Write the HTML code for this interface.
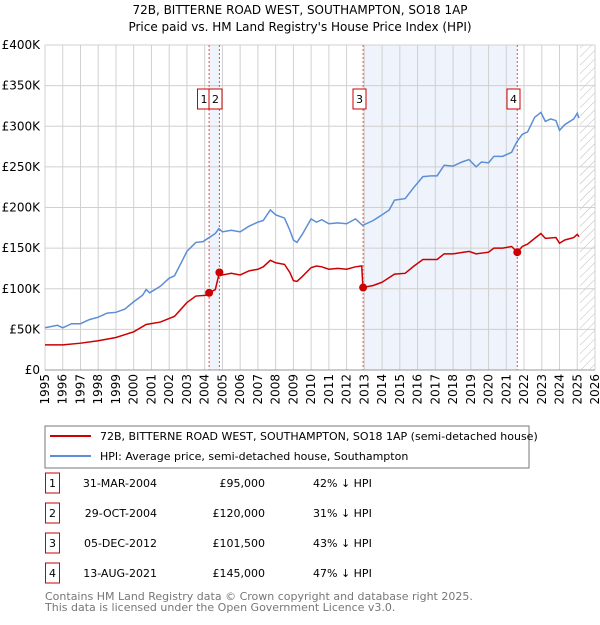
<!DOCTYPE html>
<html><head><meta charset="utf-8"><style>
body{margin:0;background:#fff;font-family:"Liberation Sans","DejaVu Sans",sans-serif;}
svg text{font-family:"DejaVu Sans","Liberation Sans",sans-serif;}
</style></head><body>
<svg id="c" width="600" height="620" xmlns="http://www.w3.org/2000/svg">
<defs><pattern id="hatch" width="6" height="6" patternUnits="userSpaceOnUse" patternTransform="rotate(45)"><line x1="0" y1="0" x2="0" y2="6" stroke="#bbb" stroke-width="1"/></pattern></defs>
<text x="300" y="14" text-anchor="middle" font-size="12">72B, BITTERNE ROAD WEST, SOUTHAMPTON, SO18 1AP</text>
<text x="300" y="31" text-anchor="middle" font-size="12">Price paid vs. HM Land Registry's House Price Index (HPI)</text>
<g id="plot"></g>
<rect x="45" y="426" width="484" height="42" fill="#fff" stroke="#777"/>
<line x1="50" y1="436" x2="91" y2="436" stroke="#cc0000" stroke-width="2"/>
<text x="100" y="440" font-size="11">72B, BITTERNE ROAD WEST, SOUTHAMPTON, SO18 1AP (semi-detached house)</text>
<line x1="50" y1="456" x2="91" y2="456" stroke="#5b8ed6" stroke-width="2"/>
<text x="100" y="460" font-size="11">HPI: Average price, semi-detached house, Southampton</text>
<g id="table" font-size="11"></g>
<text x="45" y="600" font-size="11" fill="#777">Contains HM Land Registry data © Crown copyright and database right 2025.</text>
<text x="45" y="611" font-size="11" fill="#777">This data is licensed under the Open Government Licence v3.0.</text>
</svg>
<script>
const hpiYears=[1995,1995.7,1996,1996.5,1997,1997.5,1998,1998.5,1999,1999.5,2000,2000.5,2000.7,2000.9,2001.5,2002,2002.3,2002.7,2003,2003.5,2003.9,2004.25,2004.6,2004.8,2005,2005.5,2006,2006.5,2007,2007.3,2007.7,2008,2008.5,2008.8,2009,2009.2,2009.5,2010,2010.3,2010.6,2011,2011.5,2012,2012.5,2012.9,2013.5,2014,2014.4,2014.7,2015.3,2015.8,2016.3,2016.8,2017.1,2017.5,2018,2018.5,2018.9,2019.3,2019.6,2020,2020.3,2020.8,2021.3,2021.6,2021.9,2022.2,2022.6,2022.95,2023.2,2023.5,2023.8,2024,2024.3,2024.8,2025,2025.1];
const hpiValues=[52,55,52,57,57,62,65,70,71,75,84,92,99,95,103,113,116,133,146,157,158,163,168,174,170,172,170,177,182,184,197,191,187,172,160,157,167,186,182,185,180,181,180,186,178,184,191,197,209,211,225,238,239,239,252,251,256,259,250,256,255,263,263,268,281,290,293,311,317,306,309,307,295,302,309,316,310];
const priceYears=[1995,1996,1997,1998,1999,2000,2000.7,2001.5,2002.3,2003,2003.5,2004.1,2004.25,2004.6,2004.83,2005,2005.5,2006,2006.5,2007,2007.3,2007.7,2008,2008.5,2008.8,2009,2009.2,2009.5,2010,2010.3,2010.6,2011,2011.5,2012,2012.5,2012.85,2012.92,2013.5,2014,2014.7,2015.3,2015.8,2016.3,2017.1,2017.5,2018,2018.9,2019.3,2020,2020.3,2020.8,2021.3,2021.62,2021.9,2022.2,2022.6,2022.95,2023.2,2023.8,2024,2024.3,2024.8,2025,2025.1];
const priceValues=[31,31,33,36,40,47,56,59,66,83,91,92,95,99,120,117,119,117,122,124,127,135,132,130,120,110,109,115,126,128,127,124,125,124,127,128,101.5,104,108,118,119,128,136,136,143,143,146,143,145,150,150,152,145,152,155,162,168,162,163,156,160,163,167,164];
const saleLabels=["1","2","3","4"];
const saleYears=[2004.25,2004.83,2012.93,2021.62];
const saleValues=[95,120,101.5,145];
const saleDates=["31-MAR-2004","29-OCT-2004","05-DEC-2012","13-AUG-2021"];
const salePrices=["£95,000","£120,000","£101,500","£145,000"];
const saleDiffs=["42% ↓ HPI","31% ↓ HPI","43% ↓ HPI","47% ↓ HPI"];
const yTicks=[0,50,100,150,200,250,300,350,400];
const yTickLabels=["£0","£50K","£100K","£150K","£200K","£250K","£300K","£350K","£400K"];
const xTicks=[1995,1996,1997,1998,1999,2000,2001,2002,2003,2004,2005,2006,2007,2008,2009,2010,2011,2012,2013,2014,2015,2016,2017,2018,2019,2020,2021,2022,2023,2024,2025,2026];

const L=45,R=595,T=45,B=370;
const X=y=>L+(y-1995)*(R-L)/31;
const Y=v=>B-v*(B-T)/400;
const NS="http://www.w3.org/2000/svg";
const g=document.getElementById('plot');
function mk(tag,attrs,parent){const e=document.createElementNS(NS,tag);for(const k in attrs)e.setAttribute(k,attrs[k]);(parent||g).appendChild(e);return e;}
let e;
e=mk('rect',{x:X(saleYears[0]),y:T,width:X(saleYears[1])-X(saleYears[0]),height:B-T,fill:'#eef3fc'});


e=mk('rect',{x:X(saleYears[2]),y:T,width:X(saleYears[3])-X(saleYears[2]),height:B-T,fill:'#eef3fc'});


e=mk('rect',{x:X(2025.15),y:T,width:R-X(2025.15),height:B-T,fill:'url(#hatch)'});


xTicks.forEach((t,i)=>{
 e=mk('line',{x1:X(t),x2:X(t),y1:T,y2:B,stroke:'#d0d0d0','stroke-width':1});
 
 
 const tx=X(t)+4;
 e=mk('text',{x:tx,y:374,'text-anchor':'end','font-size':12,transform:'rotate(-90 '+tx+' 374)'});
 e.textContent=t;
 
 
});
yTicks.forEach((t,i)=>{
 e=mk('line',{x1:L,x2:R,y1:Y(t),y2:Y(t),stroke:'#d0d0d0','stroke-width':1});
 
 
 e=mk('text',{x:40,y:Y(t)+4,'text-anchor':'end','font-size':12});
 e.textContent=yTickLabels[i];
 
 
});
saleYears.forEach((s,i)=>{
 e=mk('line',{x1:X(s),x2:X(s),y1:T,y2:B,stroke:'#e05050','stroke-width':1,'stroke-dasharray':'2,2'});
 
 
});
e=mk('polyline',{points:hpiYears.map((y,i)=>X(y)+','+Y(hpiValues[i])).join(' '),fill:'none',stroke:'#5b8ed6','stroke-width':1.5});


e=mk('polyline',{points:priceYears.map((y,i)=>X(y)+','+Y(priceValues[i])).join(' '),fill:'none',stroke:'#cc0000','stroke-width':1.5});


saleYears.forEach((s,i)=>{
 e=mk('circle',{cx:X(s),cy:Y(saleValues[i]),r:4,fill:'#cc0000'});
 
 
});
const boxX=[197.5,209,353,507];
saleLabels.forEach((lab,i)=>{
 e=mk('rect',{x:boxX[i],y:89,width:13,height:20,fill:'#fff',stroke:'#cc0000'});
 
 
 e=mk('text',{x:boxX[i]+6.5,y:103,'text-anchor':'middle','font-size':11});
 e.textContent=lab;
 
 
});
e=mk('line',{x1:L,x2:R,y1:B,y2:B,stroke:'#999'});


const tb=document.getElementById('table');
saleLabels.forEach((lab,i)=>{
 const cy=483+i*30;
 e=mk('rect',{x:45.5,y:cy-10,width:14,height:20,fill:'#fff',stroke:'#cc0000'},tb);
 
 
 e=mk('text',{x:52.5,y:cy+4,'text-anchor':'middle'},tb);
 e.textContent=lab;
 
 
 e=mk('text',{x:157,y:cy+4,'text-anchor':'end'},tb);
 e.textContent=saleDates[i];
 
 
 e=mk('text',{x:265,y:cy+4,'text-anchor':'end'},tb);
 e.textContent=salePrices[i];
 
 
 e=mk('text',{x:313,y:cy+4},tb);
 e.textContent=saleDiffs[i];
 
 
});
</script>
</body></html>
